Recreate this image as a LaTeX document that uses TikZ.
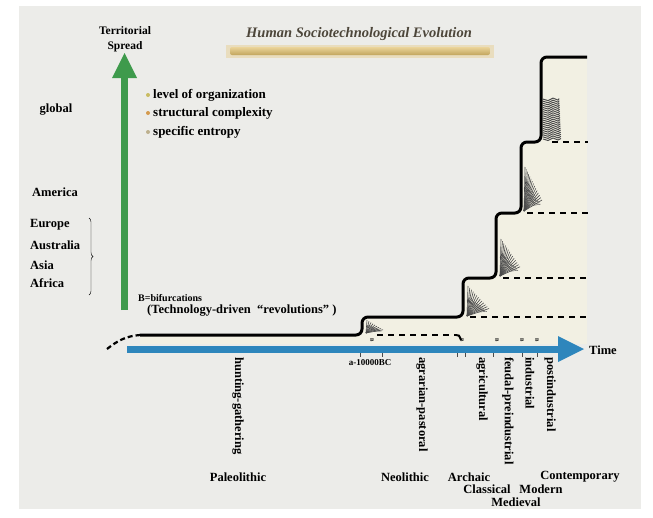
\documentclass[tikz,border=0pt]{standalone}
\usepackage{fontspec}
\setmainfont{Liberation Serif}
\usepackage{tikz}
\usetikzlibrary{decorations.pathreplacing}
\definecolor{paper}{HTML}{ECECE9}
\definecolor{cream}{HTML}{F2F0E3}
\definecolor{spreadgreen}{HTML}{3E9A4C}
\definecolor{timeblue}{HTML}{2E86BC}
\definecolor{gold}{HTML}{E3C26E}
\definecolor{titlegray}{HTML}{4D463A}
\definecolor{bushgray}{HTML}{4A4A4A}
\definecolor{dotA}{HTML}{C9BC62}
\definecolor{dotB}{HTML}{D49A4E}
\definecolor{dotC}{HTML}{BDB08E}

\begin{document}
\begin{tikzpicture}[x=1pt,y=1pt]
\tikzstyle{every node}+=[inner sep=0pt, font=\fontsize{12.5}{14}\selectfont\bfseries]
\tikzstyle{era}=[rotate=-90, anchor=west]
\tikzstyle{stepdash}=[black, dash pattern=on 6pt off 5pt, line width=2pt]
\tikzstyle{bmark}=[font=\fontsize{5}{5}\selectfont\bfseries, rotate=-90]
\useasboundingbox (0,0) rectangle (653,-517);
\fill [white] (0,0) rectangle (653,-517);
\fill [paper] (19,-6) rectangle (641,-509);
% title with golden bar
\fill [gold!35!paper] (226,-45) rectangle (494,-58);
\shade [top color=gold!70!white, bottom color=gold!85!black, rounded corners=2pt] (230,-47) rectangle (490,-55);
\node [font=\fontsize{14.5}{15}\selectfont\bfseries\itshape, text=titlegray] (title) at (359,-34) {Human Sociotechnological Evolution};
% territorial axis
\node [align=center, font=\fontsize{11.5}{14.5}\selectfont\bfseries] (spread) at (125,-39) {Territorial\\Spread};
\coordinate (s0) at (124.5,-310);
\coordinate (s1) at (124.5,-76);
\draw [spreadgreen, line width=7pt] (s0) -- (s1);
\fill [spreadgreen] (112,-78) -- (124.5,-53) -- (137,-78) -- cycle;
% legend
\fill [dotA] (148,-95) circle (2);
\fill [dotB] (148,-113) circle (2);
\fill [dotC] (148,-132) circle (2);
\node [anchor=west, font=\fontsize{13}{14}\selectfont\bfseries] (lorg) at (153,-95) {level of organization};
\node [anchor=west, font=\fontsize{13}{14}\selectfont\bfseries] (lcomp) at (153,-113) {structural complexity};
\node [anchor=west, font=\fontsize{13}{14}\selectfont\bfseries] (lentr) at (153,-132) {specific entropy};
% spread labels
\node (global) at (56,-110) {global};
\node (america) at (55,-192) {America};
\node [anchor=west] (europe) at (30,-225) {Europe};
\node [anchor=west] (australia) at (30,-245) {Australia};
\node [anchor=west] (asia) at (30,-265) {Asia};
\node [anchor=west] (africa) at (30,-283) {Africa};
\draw [black, decorate, decoration={brace, amplitude=4pt}] (89,-218) -- (89,-295);
% bifurcation note
\node [anchor=west, font=\fontsize{10}{12}\selectfont\bfseries] (bnote) at (138,-298) {B=bifurcations};
\node [anchor=west] (tnote) at (147,-311) {(Technology-driven \ “revolutions” )};
% under the staircase
\fill [cream] (140,-335) -| (362,-317) -| (463,-278) -| (496,-213) -| (521,-142) -| (541,-57) -- (587,-57) -- (587,-344) -- (140,-344) -- cycle;
% bifurcation bushes
\foreach \px/\py/\ph/\pw/\pn in {364/333/13/16/8, 465/316/30/21/12, 498/276/37/19/13, 522/211/44/17/14}{
  \foreach \i in {0,...,\pn}{
    \draw [bushgray, line width=0.6pt] ({\px+2},{-\py}) -- ({\px+3+\pw*\i/\pn},{-\py+\ph*(1-0.75*\i/\pn)});
    \draw [bushgray, line width=0.4pt] ({\px+2+0.5*\pw*\i/\pn},{-\py+0.5*\ph*(1-0.75*\i/\pn)}) -- ({\px+5+0.8*\pw*\i/\pn},{-\py+0.62*\ph*(1-0.75*\i/\pn)});
  }
}
\foreach \j in {0,...,19}{
  \draw [bushgray, line width=1pt] (543,{-139+2.1*\j}) -- (548,{-140.5+2.1*\j}) -- (553,{-138+2.1*\j}) -- (558,{-140+2.1*\j}) -- ({561-0.1*\j},{-138.5+2.1*\j});
}
% staircase
\draw [stepdash, dash pattern=on 5pt off 3pt, line width=2.2pt] (107,-349) .. controls (117,-341) and (126,-336) .. (140,-335);
\draw [black, line width=3pt, rounded corners=6pt] (140,-335) -| (362,-317) -| (463,-278) -| (496,-213) -| (521,-142) -| (541,-57) -- (587,-57);
\draw [stepdash] (377,-335) -- (456,-335);
\draw [black, line width=2pt] (456,-335) .. controls (459,-335) .. (461,-340);
\draw [stepdash] (470,-317) -- (588,-317);
\draw [stepdash] (503,-278) -- (588,-278);
\draw [stepdash] (527,-213) -- (588,-213);
\draw [stepdash] (552,-142) -- (588,-142);
% time axis
\coordinate (t0) at (127,-349);
\coordinate (t1) at (562,-349);
\draw [timeblue, line width=7pt] (t0) -- (t1);
\fill [timeblue] (558,-336) -- (584,-349) -- (558,-362) -- cycle;
\node (time) at (603,-350) {Time};
\foreach \tx in {360,382,457,465,493,522,537}{
  \draw [bushgray, line width=0.8pt] (\tx,-353) -- (\tx,-357);
}
\foreach \tx in {372,462,497,522,537}{
  \node [bmark] at (\tx,-340) {B};
}
\node [font=\fontsize{9}{10}\selectfont\bfseries] (date) at (370,-363) {a-10000BC};
% technology stages
\node [era] (hunt) at (238,-357) {hunting-gathering};
\node [era] (agrar) at (422,-357) {agrarian-pastoral};
\node [era] (agri) at (482,-357) {agricultural};
\node [era] (feudal) at (508,-357) {feudal-preindustrial};
\node [era] (indus) at (530,-357) {industrial};
\node [era] (postind) at (550,-357) {postindustrial};
% periods
\node (paleo) at (238,-477) {Paleolithic};
\node (neo) at (405,-477) {Neolithic};
\node (archaic) at (469,-477) {Archaic};
\node (classical) at (487,-489) {Classical};
\node (medieval) at (516,-502) {Medieval};
\node (modern) at (541,-489) {Modern};
\node (contemp) at (580,-477) {Contemporary};
\end{tikzpicture}
\end{document}
